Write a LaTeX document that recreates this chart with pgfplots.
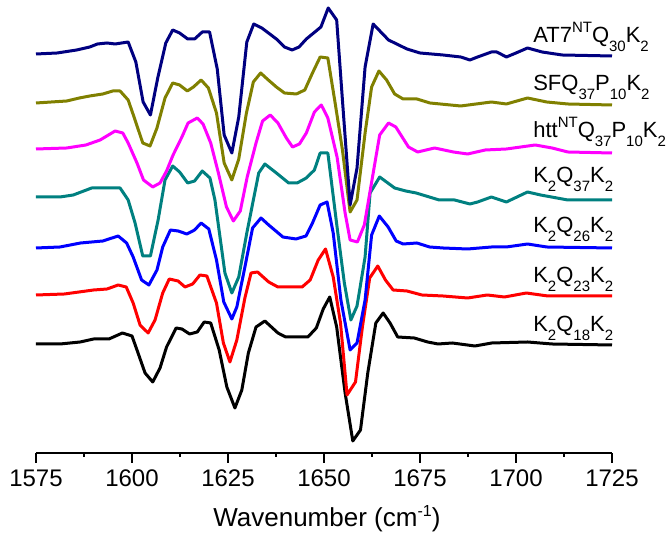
\documentclass[border=0pt]{standalone}
\usepackage{fontspec}
\setmainfont{Liberation Sans}
\usepackage{pgfplots}
\pgfplotsset{compat=1.18}
\definecolor{cnavy}{RGB}{0,0,128}
\definecolor{colive}{RGB}{128,128,0}
\definecolor{cteal}{RGB}{0,128,128}
\definecolor{cmag}{RGB}{255,0,255}
\definecolor{cred}{RGB}{255,0,0}
\definecolor{cblue}{RGB}{0,0,255}
\newcommand{\sub}[1]{\raisebox{-4.3pt}{\fontsize{7.5}{8}\selectfont #1}}
\newcommand{\sups}[1]{\raisebox{5pt}{\fontsize{7.5}{8}\selectfont #1}}
\begin{document}
\begin{tikzpicture}
\useasboundingbox (-18pt,-43pt) rectangle (317pt,226.5pt);
\begin{axis}[
  at={(0,0)}, anchor=south west,
  scale only axis, width=288pt, height=226.5pt,
  xmin=1575, xmax=1725, ymin=0, ymax=453,
  clip=false,
  axis x line=bottom, axis y line=none,
  axis line style={-, line width=0.8pt},
  xtick={1575,1600,...,1725},
  minor x tick num=1,
  tick align=outside,
  major tick length=5pt, minor tick length=2pt,
  tick style={line width=0.8pt, black},
  /pgf/number format/assume math mode=true,
  /pgf/number format/1000 sep={},
  xticklabel style={font=\fontsize{12}{14}\selectfont},
  xlabel={Wavenumber (cm\raisebox{5pt}{\fontsize{8}{9}\selectfont -1})},
  xlabel style={font=\fontsize{13}{15}\selectfont, at={(axis description cs:0.505,0)}, anchor=base, yshift=-37pt},
  every axis plot/.append style={line width=1.5pt, line join=round},
]
% K2Q18K2
\addplot[black] coordinates {(1575,109)(1581.25,109)(1586.5,111)(1590,114)(1594,114)(1597.5,120)(1600,117)(1601.3,103)(1603.4,80)(1605.4,71)(1607.3,85)(1609,106)(1611.5,125)(1613,124)(1615,119)(1617,121)(1618.8,131)(1620.5,130)(1622.7,103)(1624.7,66)(1626.8,45)(1628.6,63)(1630.3,100)(1632.3,126)(1634.6,132)(1638,120)(1640,116)(1645.8,116)(1648,125)(1649.8,144)(1651.5,156)(1653.3,126)(1655.5,60)(1657.5,12)(1659.5,23)(1661.4,80)(1663.5,130)(1665.4,140)(1667.2,130)(1669.2,116)(1673.5,115)(1677,111)(1679.7,109)(1683.4,110)(1689.3,107)(1693.7,110)(1703,111)(1709.4,109)(1725,108)};
% K2Q23K2
\addplot[cred] coordinates {(1575,158)(1582.4,159)(1590,163)(1593.5,164)(1596.4,168)(1598.5,166)(1600.3,150)(1602.1,128)(1604.2,120)(1606,133)(1608,160)(1609.7,174)(1612,172)(1613.8,166)(1615.8,169)(1617.7,178)(1619.5,177)(1622,150)(1623.8,110)(1625.5,91)(1627.3,113)(1629.4,155)(1631,180)(1632.7,181)(1635.6,171)(1638,166)(1644.3,166)(1646.4,173)(1648.5,193)(1650.4,204)(1652.4,176)(1654.3,130)(1656,58)(1658.2,71)(1660,126)(1661.9,175)(1664,187)(1666,173)(1668,163)(1671.6,162)(1675.5,158)(1681,157)(1687.4,155)(1692.5,158)(1697,156)(1702.7,160)(1708.3,157)(1725,157)};
% K2Q26K2
\addplot[cblue] coordinates {(1575,205)(1581.25,206)(1586.6,210)(1592.4,212)(1596.4,217)(1598.6,210)(1600.3,196)(1602.5,173)(1604.4,168)(1606.5,183)(1608,206)(1610,223)(1612,222)(1614.3,219)(1616.3,223)(1618,230)(1620,224)(1622,193)(1623.9,151)(1626,134)(1627.3,146)(1629.4,186)(1631.4,225)(1633.6,235)(1635.6,228)(1639.3,216)(1642.7,214)(1645.3,217)(1647,230)(1649,248)(1650.8,251)(1652.4,220)(1654.4,153)(1656.8,103)(1658.6,110)(1660.7,153)(1662.4,218)(1664.4,237)(1666.7,226)(1668.8,212)(1670.6,209)(1674.2,210)(1677.5,206)(1681,205)(1687.4,204)(1693.6,206)(1697.5,206)(1703,209)(1708,206)(1725,205)};
% K2Q37K2
\addplot[cteal] coordinates {(1575,256)(1581.25,256)(1584.7,258)(1589.5,265)(1592.4,265)(1596.9,265)(1599,253)(1600.8,230)(1602.8,197)(1604.8,197)(1606.8,233)(1608.6,273)(1610.6,287)(1612.4,281)(1614.5,270)(1616.3,272)(1618.3,282)(1620.3,275)(1621.6,253)(1624.2,180)(1626,160)(1627.8,176)(1629.9,220)(1633,280)(1634.6,289)(1637.6,280)(1640.8,270)(1643,270)(1645.4,275)(1647.5,283)(1649,300)(1651,300)(1653.5,223)(1655.3,170)(1657,133)(1658.6,147)(1660.7,196)(1662,260)(1664.5,276)(1668.4,265)(1671.3,262)(1674,260)(1680,253)(1684,253)(1688,249)(1690,251)(1693.6,256)(1697.5,251)(1703,261)(1706.4,258)(1713.5,253)(1725,253)};
% htt
\addplot[cmag] coordinates {(1575,304)(1583,305)(1588,308)(1591.7,313)(1595.6,322)(1597.6,320)(1599,310)(1601.3,290)(1603,273)(1605.4,266)(1607.3,270)(1609,282)(1610.7,298)(1613,316)(1614.6,330)(1617,335)(1618.5,329)(1620.5,310)(1622.5,280)(1624.6,246)(1626.4,232)(1628.2,242)(1630,276)(1632.3,310)(1634,332)(1636,338)(1638,330)(1640.2,315)(1641.8,306)(1643.6,309)(1645.4,320)(1647.5,341)(1649.3,348)(1651,335)(1653.4,296)(1655.5,240)(1656.8,213)(1658.7,211)(1660.5,228)(1662.5,273)(1664.5,318)(1666.8,330)(1668.7,326)(1672,306)(1674.4,301)(1678.8,305)(1683.7,301)(1687.4,299)(1692,303)(1697.5,304)(1705,308)(1709.4,305)(1713.5,301)(1725,300)};
% SFQ
\addplot[colive] coordinates {(1575,350)(1583,352)(1586.3,355)(1589,357)(1592.4,359)(1595,362)(1596.9,362)(1599,353)(1600.8,333)(1602.8,310)(1604.7,307)(1606.5,325)(1608.6,355)(1610.6,370)(1612.4,368)(1614.4,362)(1616,366)(1618,373)(1619.9,365)(1622,340)(1624,290)(1626,273)(1627.8,294)(1629.8,340)(1631.6,371)(1633.5,380)(1635.5,373)(1637.6,366)(1639.7,360)(1642.8,359)(1645,363)(1647,380)(1649,396)(1651,395)(1652.9,350)(1654.8,303)(1656.8,241)(1658.6,253)(1660.7,320)(1662.4,366)(1664.3,382)(1666.3,373)(1668.4,359)(1670.6,354)(1674.2,354)(1677.6,350)(1685.6,347)(1693.6,351)(1697.5,349)(1703,355)(1708,351)(1713.5,349)(1725,348)};
% AT7
\addplot[cnavy] coordinates {(1575,399)(1580.5,400)(1585.6,403)(1589,406)(1591,409)(1593.5,410)(1595.6,409)(1599,411)(1601,391)(1602.9,351)(1604.8,338)(1606.7,375)(1608.8,410)(1610.6,423)(1612.4,420)(1614.5,414)(1616.3,414)(1618.3,421)(1620.2,421)(1622.2,384)(1624,318)(1626,300)(1627.8,336)(1629.9,411)(1631.7,429)(1633.8,425)(1637.6,414)(1639.7,406)(1641.7,403)(1643.5,406)(1645.4,414)(1649.2,426)(1651.1,445)(1653.3,433)(1654.8,353)(1656.8,248)(1658.6,285)(1660.7,386)(1662.8,429)(1666.8,413)(1671.6,404)(1675,400)(1681,398)(1685.6,396)(1688,393)(1690,396)(1693.6,401)(1695,401)(1697.5,396)(1700,400)(1703,405)(1706.8,401)(1712,398)(1725,397)};
\begin{scope}[every node/.style={anchor=base west, inner sep=0pt, font=\fontsize{11}{13}\selectfont}]
\node at (axis cs:1704.4,410) {AT7\sups{NT}Q\sub{30}K\sub{2}};
\node at (axis cs:1704.4,362) {SFQ\sub{37}P\sub{10}K\sub{2}};
\node at (axis cs:1704.4,315) {htt\sups{NT}Q\sub{37}P\sub{10}K\sub{2}};
\node at (axis cs:1704.4,270) {K\sub{2}Q\sub{37}K\sub{2}};
\node at (axis cs:1704.4,220) {K\sub{2}Q\sub{26}K\sub{2}};
\node at (axis cs:1704.4,170) {K\sub{2}Q\sub{23}K\sub{2}};
\node at (axis cs:1704.4,121) {K\sub{2}Q\sub{18}K\sub{2}};
\end{scope}
\end{axis}
\end{tikzpicture}
\end{document}
